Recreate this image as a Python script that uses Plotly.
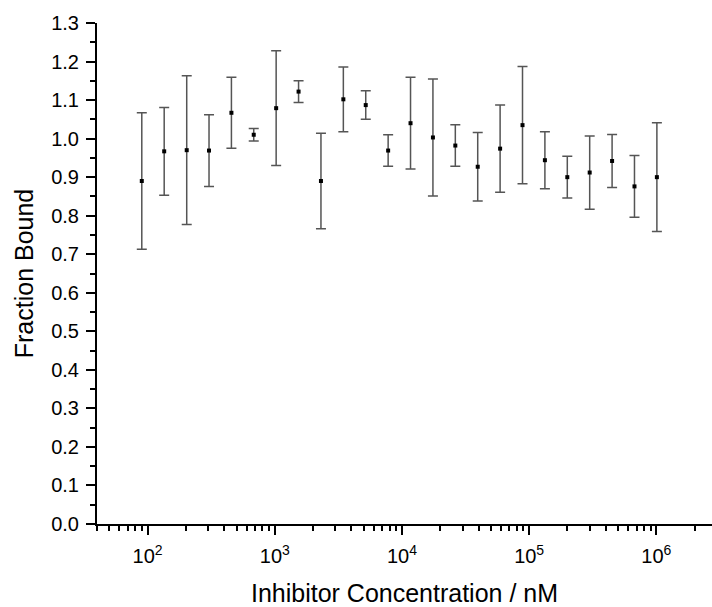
import numpy as np
import plotly.graph_objects as go

# Data
conc_nM = [90, 135, 203, 304, 456, 683, 1025, 1538, 2307, 3460, 5190, 7785,
           11677, 17516, 26273, 39410, 59115, 88673, 133010, 199515, 299272,
           448908, 673362, 1010043]
fraction_bound = [0.890, 0.967, 0.970, 0.969, 1.067, 1.010, 1.079, 1.122, 0.890,
                  1.102, 1.087, 0.969, 1.040, 1.003, 0.982, 0.927, 0.974, 1.035,
                  0.944, 0.900, 0.912, 0.942, 0.876, 0.900]
error = [0.177, 0.114, 0.193, 0.093, 0.092, 0.016, 0.149, 0.028, 0.124, 0.084,
         0.037, 0.041, 0.119, 0.152, 0.054, 0.089, 0.113, 0.152, 0.074, 0.054,
         0.095, 0.069, 0.080, 0.141]

x_major_ticks = [1e2, 1e3, 1e4, 1e5, 1e6]
x_major_labels = ["10<sup>2</sup>", "10<sup>3</sup>", "10<sup>4</sup>",
                  "10<sup>5</sup>", "10<sup>6</sup>"]
x_minor_ticks = [m * 10 ** e for e in range(1, 7) for m in range(2, 10)]

FONT = "Liberation Sans, Arial, sans-serif"

fig = go.Figure()
fig.add_trace(go.Scatter(
    x=conc_nM, y=fraction_bound, mode="markers",
    marker=dict(symbol="square", size=4, color="black"),
    error_y=dict(type="data", array=error, visible=True,
                 color="#555555", thickness=1.5, width=5),
    showlegend=False,
))

fig.update_layout(
    width=712, height=607,
    margin=dict(l=97, r=0, t=23, b=83),
    paper_bgcolor="white", plot_bgcolor="white",
    font=dict(family=FONT, color="black"),
    xaxis=dict(
        type="log", range=[np.log10(40), np.log10(2.74e6)],
        tickmode="array", tickvals=x_major_ticks, ticktext=x_major_labels,
        ticks="outside", ticklen=9, tickwidth=1.5, tickcolor="black",
        showline=True, linewidth=2, linecolor="black",
        showgrid=False, zeroline=False,
        tickfont=dict(size=20, family=FONT), ticklabelstandoff=4,
        minor=dict(tickmode="array", tickvals=x_minor_ticks, ticks="outside",
                   ticklen=5, tickwidth=1.5, tickcolor="black", showgrid=False),
        title=dict(text="Inhibitor Concentration / nM",
                   font=dict(size=25, family=FONT), standoff=18),
        automargin=False,
    ),
    yaxis=dict(
        range=[0, 1.3], tickmode="linear", tick0=0, dtick=0.1, tickformat=".1f",
        ticks="outside", ticklen=9, tickwidth=1.5, tickcolor="black",
        showline=True, linewidth=2, linecolor="black",
        showgrid=False, zeroline=False,
        tickfont=dict(size=20, family=FONT), ticklabelstandoff=3,
        minor=dict(dtick=0.05, ticks="outside", ticklen=5, tickwidth=1.5,
                   tickcolor="black", showgrid=False),
        title=dict(text="Fraction Bound", font=dict(size=25, family=FONT),
                   standoff=10),
        automargin=False,
    ),
)

fig.write_html("out.html")
